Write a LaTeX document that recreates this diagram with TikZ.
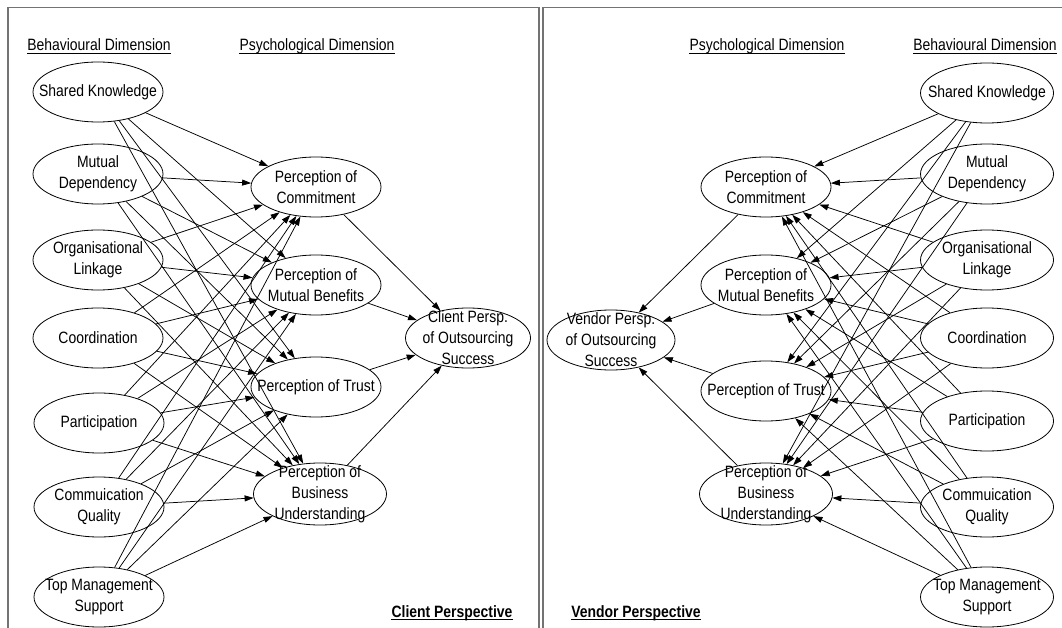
\documentclass[tikz,border=0pt]{standalone}
\usepackage{fontspec}
\setmainfont{Liberation Sans}[FakeStretch=0.85]
\usetikzlibrary{shapes.geometric,arrows.meta}
\newcommand\enode[4][]{\node[ell,#1] (#2) at (#3) {}; \node[txt] (#2-t) at (#2) {#4};}
\begin{document}
\begin{tikzpicture}[x=1pt,y=-1pt,
  ell/.style={ellipse,draw,line width=0.8pt,minimum width=130pt,minimum height=60pt,inner sep=0pt},
  txt/.style={align=center,font=\fontsize{16.4}{21}\selectfont,inner sep=0pt},
  hdr/.style={font=\fontsize{16.4}{21}\selectfont,inner sep=0pt,anchor=base},
  arr/.style={-{Triangle[length=9pt,width=6pt]},line width=0.75pt},
  frame/.style={draw=black!55,line width=1.6pt},
  uline/.style={line width=0.8pt}
]
\useasboundingbox (0,0) rectangle (1062,628);
\fill[white] (0,0) rectangle (1062,628);
\clip (0,0) rectangle (1062,628);

% panel frames
\draw[frame] (8,700) -- (8,7.5) -- (539,7.5) -- (539,700);
\draw[frame] (543,700) -- (543,7.5) -- (1100,7.5);

% headers
\node[hdr] (hLb) at (99,51) {Behavioural Dimension};
\node[hdr] (hLp) at (317,51) {Psychological Dimension};
\node[hdr] (hRp) at (767,51) {Psychological Dimension};
\node[hdr] (hRb) at (985,51) {Behavioural Dimension};
\node[hdr,font=\fontsize{16.4}{21}\selectfont\bfseries] (hLc) at (452,617) {Client Perspective};
\node[hdr,font=\fontsize{16.4}{21}\selectfont\bfseries] (hRv) at (636,617) {Vendor Perspective};
\foreach \h in {hLb,hLp,hRp,hRb}
  \draw[uline] ([yshift=-2.5pt]\h.base west) -- ([yshift=-2.5pt]\h.base east);
\foreach \h in {hLc,hRv}
  \draw[line width=1.2pt] ([yshift=-2.8pt]\h.base west) -- ([yshift=-2.8pt]\h.base east);

% ---------- left panel (client) ----------
\enode{Lsk}{98,92}{Shared Knowledge}
\enode{Lmd}{98,174}{Mutual\\Dependency}
\enode{Lol}{98,260}{Organisational\\Linkage}
\enode{Lco}{98,338}{Coordination}
\enode{Lpa}{99,423}{Participation}
\enode{Lcq}{99,507}{Commuication\\Quality}
\enode{Ltm}{99,597}{Top Management\\Support}
\enode{Lpc}{316,187}{Perception of\\Commitment}
\enode{Lpb}{316,285}{Perception of\\Mutual Benefits}
\enode{Lpt}{316,387}{Perception of Trust}
\enode[minimum width=133pt,minimum height=62pt]{Lpu}{320,494}{Perception of\\Business\\Understanding}
\enode[minimum width=125pt]{Lout}{468,338}{Client Persp.\\of Outsourcing\\Success}

% ---------- right panel (vendor) ----------
\enode[minimum width=133pt]{Rsk}{987,93}{Shared Knowledge}
\enode[minimum width=133pt]{Rmd}{987,174}{Mutual\\Dependency}
\enode[minimum width=133pt]{Rol}{987,260}{Organisational\\Linkage}
\enode[minimum width=133pt]{Rco}{987,338}{Coordination}
\enode[minimum width=133pt]{Rpa}{987,421}{Participation}
\enode[minimum width=133pt]{Rcq}{987,507}{Commuication\\Quality}
\enode[minimum width=133pt]{Rtm}{987,597}{Top Management\\Support}
\enode{Rpc}{766,187}{Perception of\\Commitment}
\enode{Rpb}{766,285}{Perception of\\Mutual Benefits}
\enode{Rpt}{766,391}{Perception of Trust}
\enode[minimum width=133pt,minimum height=62pt]{Rpu}{766,494}{Perception of\\Business\\Understanding}
\enode[minimum width=128pt]{Rout}{611,340}{Vendor Persp.\\of Outsourcing\\Success}

% connectors
\foreach \s/\o in {L/Lout,R/Rout}{
  \foreach \b in {sk,md,ol,co,pa,cq,tm}{
    \foreach \p in {pc,pb,pt,pu}{
      \draw[arr] (\s\b) -- (\s\p);
    }
  }
  \foreach \p in {pc,pb,pt,pu}{
    \draw[arr] (\s\p) -- (\o);
  }
}
\end{tikzpicture}
\end{document}
